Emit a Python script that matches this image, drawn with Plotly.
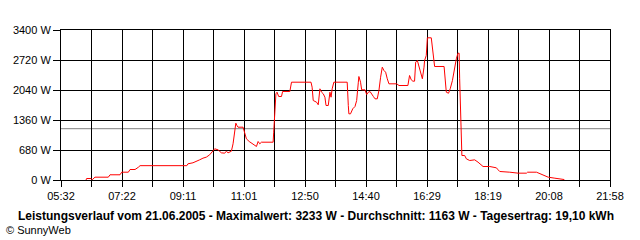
import plotly.graph_objects as go

times = [
    "06:17", "06:18", "06:26", "06:28", "06:33", "06:57", "07:00", "07:18", "07:21", "07:33",
    "07:36", "07:45", "07:51", "07:54", "09:18", "09:20", "09:29", "09:36", "09:41", "09:47",
    "09:53", "09:59", "10:05", "10:08", "10:14", "10:20", "10:26", "10:29", "10:32", "10:38",
    "10:41", "10:44", "10:46", "10:48", "10:50", "10:59", "11:02", "11:05", "11:10", "11:14",
    "11:20", "11:23", "11:26", "11:29", "11:32", "11:53", "11:54", "11:56", "11:58", "12:00",
    "12:03", "12:08", "12:10", "12:23", "12:26", "13:01", "13:03", "13:05", "13:08", "13:11",
    "13:14", "13:16", "13:17", "13:20", "13:23", "13:26", "13:28", "13:32", "13:35", "13:37",
    "13:39", "13:42", "14:06", "14:08", "14:09", "14:12", "14:16", "14:20", "14:23", "14:26",
    "14:27", "14:30", "14:32", "14:38", "14:41", "14:44", "14:47", "14:53", "14:56", "15:00",
    "15:03", "15:06", "15:09", "15:12", "15:15", "15:18", "15:21", "15:35", "15:39", "15:55",
    "15:58", "16:01", "16:04", "16:07", "16:09", "16:12", "16:15", "16:19", "16:21", "16:24",
    "16:25", "16:28", "16:30", "16:37", "16:39", "16:42", "16:43", "17:00", "17:02", "17:04",
    "17:08", "17:11", "17:15", "17:18", "17:22", "17:25", "17:27", "17:28", "17:31", "17:32",
    "17:37", "17:40", "17:46", "17:52", "17:55", "18:01", "18:07", "18:10", "18:22", "18:31",
    "18:34", "18:37", "18:40", "18:58", "19:13", "19:28", "19:30", "19:46", "19:52", "19:58",
    "20:07", "20:19", "20:34", "20:36",
]

watts = [
    0, 34, 34, 5, 64, 64, 118, 118, 177, 177,
    238, 238, 290, 325, 325, 367, 390, 419, 457, 495,
    518, 571, 669, 707, 684, 616, 608, 653, 616, 653,
    820, 1122, 1288, 1235, 1197, 1197, 1047, 933, 873, 835,
    782, 760, 873, 820, 857, 857, 1084, 1575, 1954, 1990,
    1893, 1893, 2006, 2006, 2217, 2217, 2104, 1802, 1779, 1764,
    1705, 1877, 2067, 1990, 1954, 1877, 1689, 1689, 1990, 1877,
    2067, 2217, 2217, 1689, 1500, 1500, 1614, 1666, 1802, 2217,
    2346, 2217, 2044, 2044, 1938, 1990, 2006, 1893, 1840, 1840,
    2029, 2330, 2557, 2482, 2444, 2294, 2180, 2180, 2142, 2142,
    2369, 2271, 2240, 2240, 2671, 2709, 2557, 2369, 2294, 2557,
    2709, 2822, 3223, 3223, 2974, 2671, 2573, 2573, 2180, 1990,
    1967, 2067, 2255, 2482, 2747, 2874, 2874, 2294, 593, 555,
    555, 480, 442, 442, 457, 404, 351, 306, 306, 290,
    276, 231, 193, 177, 155, 155, 177, 177, 140, 117,
    64, 41, 26, 10,
]

x_tick_labels = ["05:32", "07:22", "09:11", "11:01", "12:50", "14:40", "16:29", "18:19", "20:08", "21:58"]
y_tick_values = [0, 680, 1360, 2040, 2720, 3400]
y_tick_labels = ["0 W", "680 W", "1360 W", "2040 W", "2720 W", "3400 W"]
average_w = 1163
title_text = ("Leistungsverlauf vom 21.06.2005 - Maximalwert: 3233 W - "
              "Durchschnitt: 1163 W - Tagesertrag: 19,10 kWh")
credit_text = "© SunnyWeb"


def to_min(s):
    h, m = s.split(":")
    return int(h) * 60 + int(m)


x_vals = [to_min(t) for t in times]
x_start = to_min(x_tick_labels[0])
x_end = to_min(x_tick_labels[-1])
n_int = 2 * (len(x_tick_labels) - 1)
x_tickvals = [x_start + i * (x_end - x_start) / n_int for i in range(n_int + 1)]
x_ticktext = []
for i in range(n_int + 1):
    x_ticktext.append(x_tick_labels[i // 2] if i % 2 == 0 else "")

FONT = "Liberation Sans, Arial, sans-serif"

fig = go.Figure()
fig.add_trace(go.Scatter(
    x=x_vals, y=watts, mode="lines",
    line=dict(color="#ff0000", width=1),
    hoverinfo="skip", showlegend=False,
))

fig.add_shape(type="line", xref="paper", x0=0, x1=1, yref="y",
              y0=average_w, y1=average_w,
              line=dict(color="#808080", width=1), layer="below")

fig.update_layout(
    width=640, height=240,
    margin=dict(l=61, r=30, t=30, b=60, pad=0),
    paper_bgcolor="white", plot_bgcolor="white",
    font=dict(family=FONT, size=11, color="black"),
    showlegend=False,
    xaxis=dict(
        range=[x_start, x_end], tickmode="array",
        tickvals=x_tickvals, ticktext=x_ticktext,
        showgrid=True, gridcolor="black", gridwidth=1,
        showline=True, linecolor="black", linewidth=1, mirror=True,
        ticks="outside", ticklen=6, tickcolor="black", tickwidth=1,
        zeroline=False, tickfont=dict(family=FONT, size=11, color="black"),
    ),
    yaxis=dict(
        range=[0, 3400], tickmode="array",
        tickvals=y_tick_values, ticktext=y_tick_labels,
        showgrid=True, gridcolor="black", gridwidth=1,
        showline=True, linecolor="black", linewidth=1, mirror=True,
        ticks="outside", ticklen=7, tickcolor="black", tickwidth=1,
        zeroline=False, tickfont=dict(family=FONT, size=11, color="black"),
    ),
    annotations=[
        dict(text="<b>" + title_text + "</b>", xref="paper", yref="paper",
             x=(16 - 61) / 549, y=(179.5 - 215.5) / 150, xanchor="left", yanchor="middle",
             showarrow=False, font=dict(family=FONT, size=12, color="black")),
        dict(text=credit_text, xref="paper", yref="paper",
             x=(4 - 61) / 549, y=(179.5 - 229) / 150, xanchor="left", yanchor="middle",
             showarrow=False, font=dict(family=FONT, size=11, color="black")),
    ],
)

fig.write_html("out.html")
